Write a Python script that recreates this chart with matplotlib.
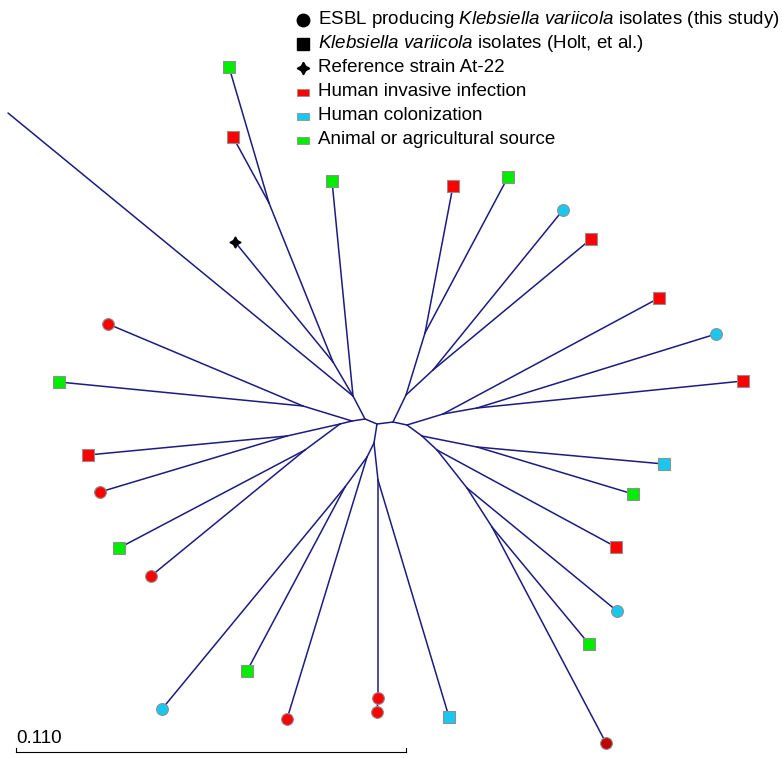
import matplotlib.pyplot as plt

plt.rcParams['font.family'] = 'Liberation Sans'
plt.rcParams['mathtext.fontset'] = 'custom'
plt.rcParams['mathtext.rm'] = 'Liberation Sans'
plt.rcParams['mathtext.it'] = 'Liberation Sans:italic'

# tree layout (unrooted, equal-angle), coordinates in picture units
# parent = index of the parent node, -1 for the drawing root
names = ['C2', 'N1', 'long', 'G1', 'N2', 'star', 'N3', 'g_top', 'r_top',
         'C1', 'A1', 'rc1', 'gs1', 'A2', 'A3', 'rs1', 'rc2', 'A4', 'gs2', 'rc3',
         'C3', 'B1', 'B2', 'B4', 'bc1', 'gs3', 'rc4', 'B3', 'B5', 'rc5', 'rc6', 'bs1',
         'C4', 'D1', 'D2', 'rs2', 'gs4', 'D3', 'bc2', 'rs3',
         'C5', 'E1', 'rs4', 'E2', 'bc3', 'rs5',
         'F1', 'F2', 'bs2', 'gs5', 'F3', 'rs6', 'F4', 'bc4', 'F5', 'gs6', 'rc7']
xs = [365, 353, 8, 332, 333, 235, 269, 229, 233,
      352, 303, 108, 59, 340, 287, 88, 100, 305, 119, 151,
      377, 374, 367, 345, 162, 247, 287, 378, 378, 378, 377, 449,
      393, 406, 425, 453, 508, 433, 563, 591,
      407, 443, 659, 477, 716, 743,
      422, 477, 664, 633, 437, 616, 467, 617, 492, 589, 606]
ys = [419, 396, 113, 181, 362, 242, 203, 67, 137,
      421, 406, 324, 382, 424, 436, 455, 492, 450, 548, 576,
      424, 443, 457, 487, 709, 671, 719, 480, 697, 698, 712, 717,
      422, 395, 333, 186, 177, 370, 210, 239,
      425, 414, 298, 408, 334, 381,
      436, 447, 464, 494, 450, 547, 488, 611, 527, 644, 743]
parents = [-1, 0, 1, 1, 1, 4, 4, 6, 6,
           0, 9, 10, 10, 9, 13, 14, 14, 13, 17, 17,
           0, 20, 21, 22, 23, 23, 22, 21, 27, 28, 28, 27,
           20, 32, 33, 34, 34, 33, 37, 37,
           32, 40, 41, 41, 43, 43,
           40, 46, 47, 47, 46, 50, 50, 52, 52, 54, 54]
# leaf marker: o = this study, s = Holt et al., * = reference, '' = none
shapes = ['', '', '', 's', '', '*', '', 's', 's',
          '', '', 'o', 's', '', '', 's', 'o', '', 's', 'o',
          '', '', '', '', 'o', 's', 'o', '', '', 'o', 'o', 's',
          '', '', '', 's', 's', '', 'o', 's',
          '', '', 's', '', 'o', 's',
          '', '', 's', 's', '', 's', '', 'o', '', 's', 'o']
# source: inv = human invasive infection, col = colonization, ani = animal/agri
sources = ['', '', '', 'ani', '', 'ref', '', 'ani', 'inv',
           '', '', 'inv', 'ani', '', '', 'inv', 'inv', '', 'ani', 'inv',
           '', '', '', '', 'col', 'ani', 'inv', '', '', 'inv', 'inv', 'col',
           '', '', '', 'inv', 'ani', '', 'col', 'inv',
           '', '', 'inv', '', 'col', 'inv',
           '', '', 'col', 'ani', '', 'inv', '', 'col', '', 'ani', 'dark']

colors = {'inv': '#ff0000', 'col': '#18c8f0', 'ani': '#00ee00',
          'ref': 'black', 'dark': '#c00000'}

legend_labels = ['ESBL producing $\\mathit{Klebsiella\\ variicola}$ isolates (this study)',
                 '$\\mathit{Klebsiella\\ variicola}$ isolates (Holt, et al.)',
                 'Reference strain At-22',
                 'Human invasive infection',
                 'Human colonization',
                 'Animal or agricultural source']

scale_value = 0.110
scale_px = 390

fig = plt.figure(figsize=(7.82, 7.58), dpi=100)
ax = fig.add_axes([0, 0, 1, 1])
ax.set_xlim(0, 782)
ax.set_ylim(758, 0)
ax.axis('off')

line_col = '#1c1c80'
for i in range(len(names)):
    p = parents[i]
    if p >= 0:
        ax.plot([xs[p], xs[i]], [ys[p], ys[i]], color=line_col, lw=1.1,
                solid_capstyle='round', zorder=1)

for i in range(len(names)):
    if shapes[i] == 'o':
        ax.plot(xs[i], ys[i], 'o', ms=8.5, mfc=colors[sources[i]],
                mec='#909090', mew=0.8, zorder=3)
    elif shapes[i] == 's':
        ax.plot(xs[i], ys[i], 's', ms=8, mfc=colors[sources[i]],
                mec='#909090', mew=0.8, zorder=3)
    elif shapes[i] == '*':
        ax.plot(xs[i], ys[i], marker=(4, 1, 0), ms=8, color='black', zorder=3)

# legend
lx, ly0, dy = 303, 20, 24
mk = [('o', 'black'), ('s', 'black'), ((4, 1, 0), 'black')]
for k, (m, c) in enumerate(mk):
    ax.plot(lx, ly0 + k * dy, marker=m, ms=9, color=c,
            mec=c, linestyle='none')
for k, src in enumerate(['inv', 'col', 'ani']):
    ax.add_patch(plt.Rectangle((lx - 6, ly0 + (k + 3) * dy - 3.5), 12, 7,
                               facecolor=colors[src], edgecolor='#909090', lw=0.6))
for k, lab in enumerate(legend_labels):
    ax.text(lx + 15, ly0 + k * dy, lab, fontsize=13.5, va='center', ha='left')

# scale bar
sx, sy = 16, 752
ax.plot([sx, sx + scale_px], [sy, sy], color='black', lw=0.8)
ax.plot([sx, sx], [sy, sy - 4], color='black', lw=0.8)
ax.plot([sx + scale_px, sx + scale_px], [sy, sy - 4], color='black', lw=0.8)
ax.text(sx, sy - 5, '%.3f' % scale_value, fontsize=13.5, ha='left', va='bottom')

fig.savefig('out.png', dpi=100)
